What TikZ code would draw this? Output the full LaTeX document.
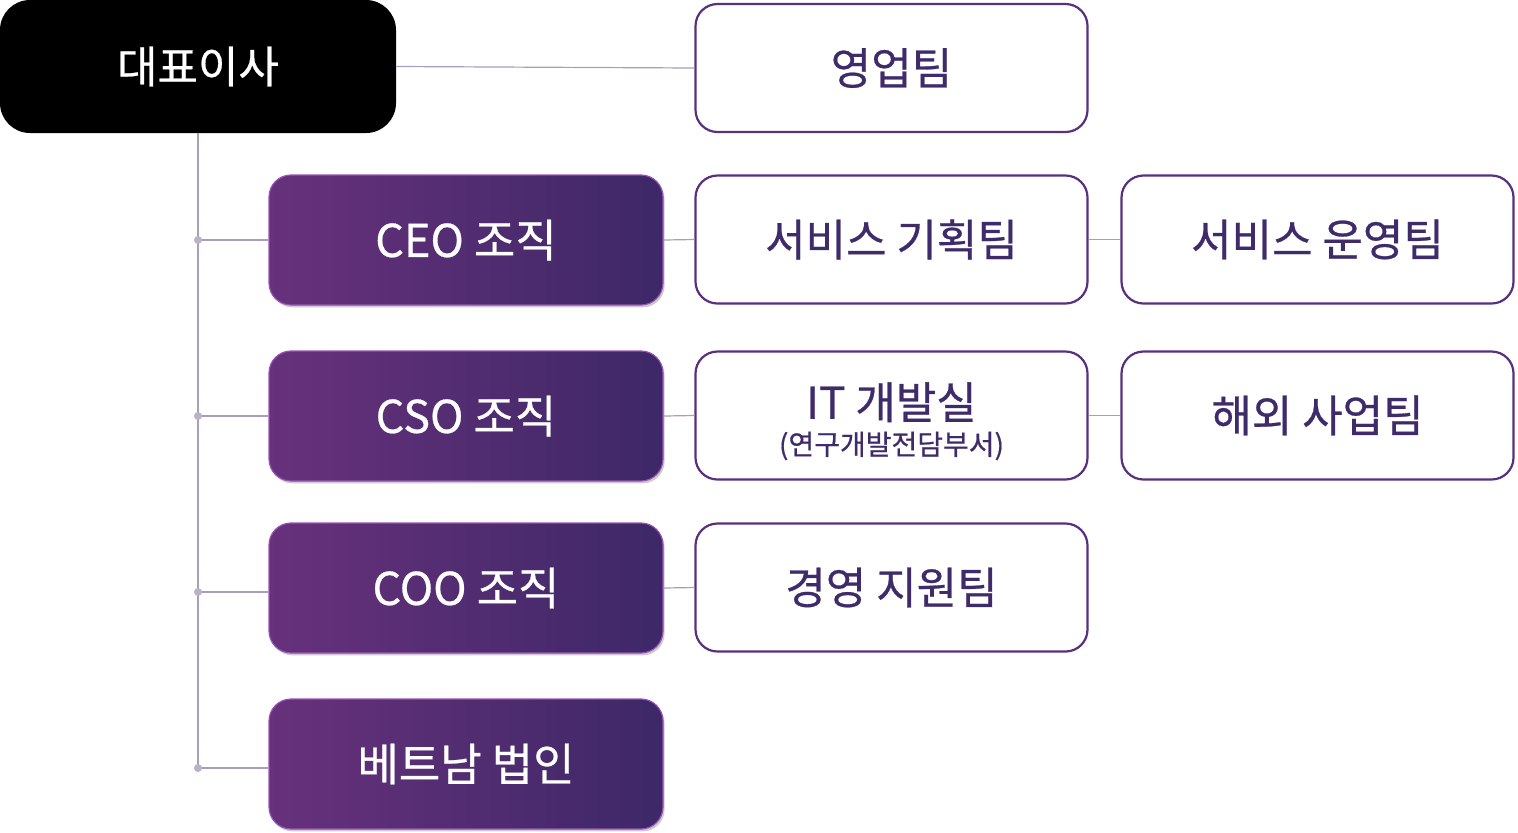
\documentclass[tikz,border=0pt]{standalone}
\usepackage{fontspec}
\setmainfont{Noto Sans CJK KR}[FakeBold=0.6]
\usepackage{tikz}
\usetikzlibrary{shadows}
\definecolor{unitleft}{HTML}{67317B}
\definecolor{unitright}{HTML}{3D2867}
\definecolor{unitedge}{HTML}{9B52B8}
\definecolor{teamedge}{HTML}{58307E}
\definecolor{teamtext}{HTML}{3F2A6A}
\definecolor{linkgray}{HTML}{A99DB8}
\tikzset{
	root box/.style={rectangle, rounded corners=15pt, fill=black, text=white, minimum width=198pt, minimum height=66.5pt, inner sep=0pt, font=\fontsize{22}{24}\selectfont},
	unit box/.style={rectangle, rounded corners=11pt, left color=unitleft, right color=unitright, draw=unitedge, line width=0.6pt, text=white, minimum width=197pt, minimum height=65pt, inner sep=0pt, font=\fontsize{22.5}{26}\selectfont, drop shadow={shadow xshift=0.8pt, shadow yshift=-1.2pt, opacity=0.4}},
	team box/.style={rectangle, rounded corners=11pt, fill=white, draw=teamedge, line width=1.1pt, text=teamtext, minimum width=196pt, minimum height=64pt, inner sep=0pt, align=center, font=\fontsize{22}{26}\selectfont},
	link/.style={draw=linkgray, line width=0.6pt},
	joint/.style={circle, minimum width=4pt, inner sep=0pt, fill=linkgray!80, draw=none},
}
\begin{document}
\begin{tikzpicture}[x=0.5pt, y=-0.5pt]
	\useasboundingbox (0,0) rectangle (1518,832);
	% left column
	\node[root box] (ceoroot) at (198,66.5) {대표이사};
	\node[unit box] (ceo) at (466,240) {CEO 조직};
	\node[unit box] (cso) at (466,416) {CSO 조직};
	\node[unit box] (coo) at (466,588) {COO 조직};
	\node[unit box] (vn) at (466,764) {베트남 법인};
	% teams
	\node[team box] (sales) at (891.5,68) {영업팀};
	\node[team box] (plan) at (891.5,239.5) {서비스 기획팀};
	\node[team box] (ops) at (1317.5,239.5) {서비스 운영팀};
	\node[team box] (itlab) at (891.5,415.5) {\rule{0pt}{24pt}IT 개발실\\[-8pt]{\fontsize{14}{16}\selectfont (연구개발전담부서)}};
	\node[team box] (overseas) at (1317.5,415.5) {해외 사업팀};
	\node[team box] (support) at (891.5,587.5) {경영 지원팀};
	% connectors
	\coordinate (j1) at (198,240);
	\coordinate (j2) at (198,416);
	\coordinate (j3) at (198,592);
	\coordinate (j4) at (198,768);
	\draw[link] (ceoroot.south) -- (j4);
	\draw[link] (j1) -- (j1 -| ceo.west);
	\draw[link] (j2) -- (j2 -| cso.west);
	\draw[link] (j3) -- (j3 -| coo.west);
	\draw[link] (j4) -- (j4 -| vn.west);
	\draw[link] (ceoroot.east) -- (sales.west);
	\draw[link] (ceo.east) -- (plan.west);
	\draw[link] (cso.east) -- (itlab.west);
	\draw[link] (coo.east) -- (support.west);
	\draw[link] (plan.east) -- (ops.west);
	\draw[link] (itlab.east) -- (overseas.west);
	\foreach \j in {j1,j2,j3,j4}
		\node[joint] at (\j) {};
\end{tikzpicture}
\end{document}
